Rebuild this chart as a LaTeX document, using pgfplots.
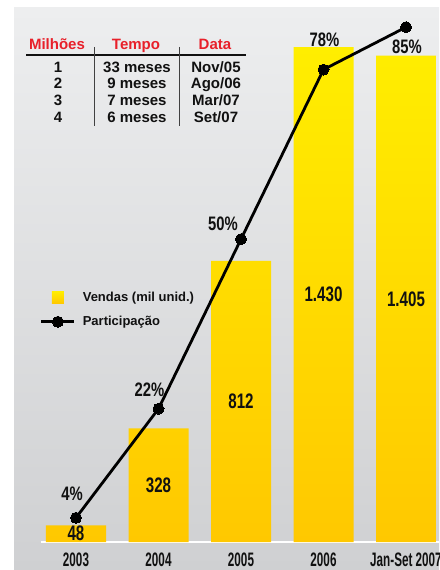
\documentclass[border=0pt]{standalone}
\usepackage{fontspec}
\setmainfont{Liberation Sans}
\newfontfamily\condfont[FakeStretch=0.72]{Liberation Sans}
\newfontfamily\pctfont[FakeStretch=0.76]{Liberation Sans}
\newfontfamily\tickfont[FakeStretch=0.6]{Liberation Sans}
\usepackage{pgfplots}
\pgfplotsset{compat=1.18}
\definecolor{barTop}{HTML}{FFEE00}
\definecolor{barBot}{HTML}{FFC800}
\definecolor{bgTop}{HTML}{EDEEEF}
\definecolor{bgBot}{HTML}{CFD0D2}
\definecolor{hdrRed}{HTML}{E8202A}
\definecolor{txt}{HTML}{111111}

\pgfplotsset{
  lineleg/.style={legend image code/.code={\draw[mark repeat=2, mark phase=2, ##1] plot coordinates {(0pt,0pt) (16.5pt,0pt) (33pt,0pt)};}},
  barleg/.style={legend image code/.code={\coordinate (la) at (0pt,0pt); \coordinate (lb) at (33pt,0pt); \shade[draw=none, top color=barTop,bottom color=barBot] (10.5pt,-6pt) rectangle (22.5pt,6pt);}}
}

\pgfplotstableread{
x y lab
0 24 48
1 164 328
2 406 812
3 715 1.430
4 702.5 1.405
}\barlabels

\pgfplotstableread{
x y dx dy lab
0 4 -4 24 4
1 22 -9 19 22
2 50 -18 15 50
3 78 1 30 78
4 85 1 -20 85
}\pctdata

\begin{document}
\begin{tikzpicture}[x=1pt,y=1pt]
\path[use as bounding box] (0,0) rectangle (439,570);
\shade[top color=bgTop, bottom color=bgBot] (14,0) rectangle (439,562);
\draw[white, line width=2pt] (41,28) -- (439,28);

% table
\begin{scope}[font=\bfseries\fontsize{15}{16}\selectfont]
\node[anchor=base, text=hdrRed] at (57,520) {Milhões};
\node[anchor=base, text=hdrRed] at (136,520) {Tempo};
\node[anchor=base, text=hdrRed] at (215,520) {Data};
\draw[txt, line width=1.3pt] (26,515) -- (246,515);
\draw[txt!80, line width=0.9pt] (94,523) -- (94,444);
\draw[txt!80, line width=0.9pt] (179,523) -- (179,444);
\foreach \a/\b/\c/\yy in {1/33 meses/Nov\slash 05/497.6, 2/9 meses/Ago\slash 06/481.6, 3/7 meses/Mar\slash 07/464.6, 4/6 meses/Set\slash 07/447.6}{
  \node[anchor=base, text=txt] at (58,\yy) {\a};
  \node[anchor=base, text=txt] at (137,\yy) {\b};
  \node[anchor=base, text=txt] at (216,\yy) {\c};
}
\end{scope}

\begin{axis}[at={(14pt,28pt)}, anchor=south west, scale only axis,
  width=425pt, height=533pt,
  xmin=-0.7515, xmax=4.4, ymin=0, ymax=1540,
  axis line style={draw=none}, tick style={draw=none}, ytick=\empty,
  xtick={0,1,2,3,4}, xticklabels={2003,2004,2005,2006,Jan-Set 2007},
  xticklabel style={font=\tickfont\bfseries\fontsize{19.5}{20}\selectfont, text=txt, yshift=-7pt},
  clip=false]
\addplot[ybar, bar width=60pt, draw=none, top color=barTop, bottom color=barBot]
  coordinates {(0,48) (1,328) (2,812) (3,1430) (4,1405)};
\addplot[draw=none, mark=none, nodes near coords,
  point meta=explicit symbolic, nodes near coords align=center,
  nodes near coords style={font=\condfont\bfseries\fontsize{21}{22}\selectfont, text=txt, anchor=center}]
  table[x=x, y=y, meta=lab] {\barlabels};
\end{axis}

\begin{axis}[at={(14pt,28pt)}, anchor=south west, scale only axis,
  width=425pt, height=533pt,
  xmin=-0.7515, xmax=4.4, ymin=0, ymax=88,
  hide axis, clip=false,
  legend style={at={(0.0612,0.4705)}, anchor=north west, draw=none, fill=none,
    inner sep=0pt, outer sep=0pt, row sep=13pt,
    font=\bfseries\fontsize{13}{14}\selectfont, text=txt,
    nodes={inner sep=0pt, text=txt}, column sep=7pt},
  legend cell align=left]
\addlegendimage{barleg}
\addlegendentry{Vendas (mil unid.)}
\addplot[black, line width=2.8pt, mark=*, mark size=5.5pt, mark options={fill=black, line width=0pt}, lineleg]
  table[x=x, y=y] {\pctdata};
\addlegendentry{Participação}
\addplot[draw=none, mark=none, forget plot,
  nodes near coords={\pgfplotspointmeta\%},
  point meta=explicit symbolic,
  visualization depends on={\thisrow{dx} \as \dx},
  visualization depends on={\thisrow{dy} \as \dy},
  nodes near coords style={font=\pctfont\bfseries\fontsize{19.5}{20}\selectfont, text=txt, anchor=center, xshift=\dx pt, yshift=\dy pt}]
  table[x=x, y=y, meta=lab] {\pctdata};
\end{axis}
\end{tikzpicture}
\end{document}
